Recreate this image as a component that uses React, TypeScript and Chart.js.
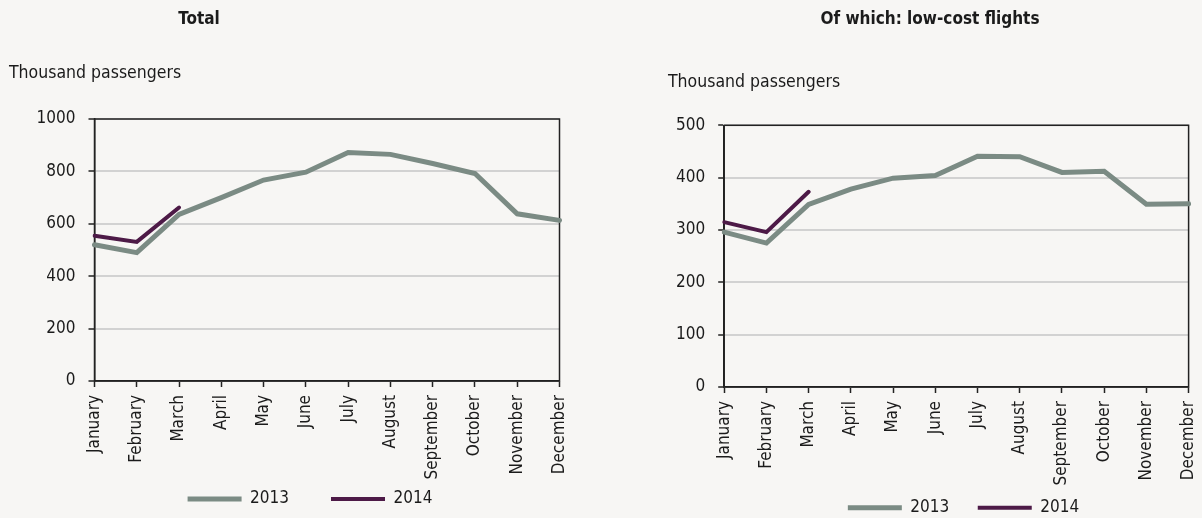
import React, { useEffect, useRef } from "react";
import { Chart, registerables } from "chart.js";

Chart.register(...registerables);

// ---------- data ----------
const months = [
  "January", "February", "March", "April", "May", "June",
  "July", "August", "September", "October", "November", "December",
];
const seriesNames = ["2013", "2014"];
const total2013 = [520, 490, 636, 700, 767, 797, 872, 865, 830, 792, 638, 613];
const total2014 = [554, 531, 662];
const lowCost2013 = [296, 275, 349, 378, 399, 404, 441, 440, 410, 412, 349, 350];
const lowCost2014 = [315, 296, 373];
const totalTicks = [0, 200, 400, 600, 800, 1000];
const lowCostTicks = [0, 100, 200, 300, 400, 500];

const titles = ["Total", "Of which: low-cost flights"];
const unitLabel = "Thousand passengers";

// ---------- style ----------
const FONT = "'Liberation Sans Narrow', 'Arial Narrow', 'DejaVu Sans Condensed', sans-serif";
const TEXT = "#1b1b1b";
const BG = "#f7f6f4";
const C2013 = "#7b8b84";
const C2014 = "#4d1a47";
const AXIS = "#222222";
const GRID = "#d2d2d2";
const TICK_SIZE = 17;

type Layout = {
  left: number;
  width: number;
  height: number;
  padTop: number;
  padBottom: number;
  yWidth: number;
  rightWidth: number;
  xHeight: number;
  legendPad: number;
  legendCenterY: number;
};

const framePlugin = {
  id: "frame",
  beforeDatasetsDraw(chart: any) {
    const { ctx, chartArea: a } = chart;
    ctx.save();
    ctx.strokeStyle = AXIS;
    ctx.lineWidth = 1.5;
    ctx.strokeRect(a.left, a.top, a.right - a.left, a.bottom - a.top);
    ctx.restore();
  },
};

const legendPlacePlugin = {
  id: "legendPlace",
  afterLayout(chart: any, _args: any, opts: any) {
    const lg = chart.legend;
    if (!lg || opts.centerY == null) return;
    const pad = lg.options.labels.padding;
    const fs = lg.options.labels.font.size;
    const h = lg.height;
    lg.top = opts.centerY - pad - fs / 2;
    lg.bottom = lg.top + h;
  },
};

function makeConfig(d2013: number[], d2014: number[], ticks: number[], L: Layout): any {
  return {
    type: "line",
    data: {
      labels: months,
      datasets: [
        {
          label: seriesNames[0],
          data: d2013,
          borderColor: C2013,
          backgroundColor: C2013,
          borderWidth: 5,
          pointRadius: 0,
          tension: 0,
          borderCapStyle: "round",
          borderJoinStyle: "miter",
        },
        {
          label: seriesNames[1],
          data: d2014,
          borderColor: C2014,
          backgroundColor: C2014,
          borderWidth: 4,
          pointRadius: 0,
          tension: 0,
          borderCapStyle: "round",
          borderJoinStyle: "miter",
        },
      ],
    },
    options: {
      responsive: false,
      maintainAspectRatio: false,
      animation: false,
      events: [],
      layout: { padding: { top: L.padTop, bottom: L.padBottom, left: 0, right: 0 } },
      plugins: {
        title: { display: false },
        tooltip: { enabled: false },
        legendPlace: { centerY: L.legendCenterY },
        legend: {
          display: true,
          position: "bottom",
          align: "center",
          labels: {
            usePointStyle: true,
            pointStyle: "line",
            pointStyleWidth: 54,
            boxHeight: TICK_SIZE,
            padding: L.legendPad,
            color: TEXT,
            font: { family: FONT, size: TICK_SIZE },
          },
        },
      },
      scales: {
        x: {
          type: "category",
          offset: false,
          grid: {
            display: true,
            drawOnChartArea: false,
            drawTicks: true,
            tickLength: 6,
            tickColor: AXIS,
            tickWidth: 1.5,
          },
          border: { display: true, color: AXIS, width: 1.5 },
          ticks: {
            autoSkip: false,
            maxRotation: 90,
            minRotation: 90,
            padding: 8,
            color: TEXT,
            font: { family: FONT, size: TICK_SIZE },
          },
          afterFit(s: any) {
            s.height = L.xHeight;
          },
        },
        y: {
          type: "linear",
          min: ticks[0],
          max: ticks[ticks.length - 1],
          afterBuildTicks(s: any) {
            s.ticks = ticks.map((v) => ({ value: v }));
          },
          grid: {
            color: GRID,
            lineWidth: 2,
            drawTicks: true,
            tickLength: 6,
            tickColor: AXIS,
            tickWidth: 1.5,
          },
          border: { display: true, color: AXIS, width: 1.5 },
          ticks: {
            padding: 13,
            color: TEXT,
            font: { family: FONT, size: TICK_SIZE },
            callback: (v: any) => String(v),
          },
          afterFit(s: any) {
            s.width = L.yWidth;
          },
        },
        yR: {
          type: "linear",
          position: "right",
          display: true,
          grid: { display: false, drawTicks: false },
          border: { display: false },
          ticks: { display: false },
          afterFit(s: any) {
            s.width = L.rightWidth;
          },
        },
      },
    },
    plugins: [framePlugin, legendPlacePlugin],
  };
}

// layout (pixel positions of each canvas on the page)
const layoutTotal: Layout = {
  left: 0,
  width: 620,
  height: 600,
  padTop: 119,
  padBottom: 40,
  yWidth: 94.5,
  rightWidth: 60.5,
  xHeight: 110,
  legendPad: 42,
  legendCenterY: 499,
};
const layoutLowCost: Layout = {
  left: 622,
  width: 683.4,
  height: 600,
  padTop: 125.3,
  padBottom: 47.5,
  yWidth: 102.2,
  rightWidth: 116.4,
  xHeight: 110,
  legendPad: 28.5,
  legendCenterY: 507.7,
};

function LineChart({ d2013, d2014, ticks, L }: { d2013: number[]; d2014: number[]; ticks: number[]; L: Layout }) {
  const ref = useRef<HTMLCanvasElement | null>(null);
  useEffect(() => {
    if (!ref.current) return;
    const chart = new Chart(ref.current, makeConfig(d2013, d2014, ticks, L));
    return () => chart.destroy();
  }, []);
  return (
    <canvas
      ref={ref}
      width={Math.round(L.width)}
      height={L.height}
      style={{ position: "absolute", left: L.left, top: 0, width: Math.round(L.width), height: L.height }}
    />
  );
}

function Label({ text, cx, cy, left, bold, size }: { text: string; cx?: number; cy: number; left?: number; bold?: boolean; size: number }) {
  const style: React.CSSProperties = {
    position: "absolute",
    top: cy - size / 2,
    height: size,
    lineHeight: `${size}px`,
    fontFamily: FONT,
    fontSize: size,
    fontWeight: bold ? 700 : 400,
    color: TEXT,
    whiteSpace: "nowrap",
  };
  if (cx !== undefined) {
    style.left = cx - 200;
    style.width = 400;
    style.textAlign = "center";
  } else {
    style.left = left;
  }
  return <div style={style}>{text}</div>;
}

export default function App() {
  return (
    <div
      style={{
        position: "absolute",
        left: 0,
        top: 0,
        width: 1202,
        height: 518,
        overflow: "hidden",
        background: BG,
      }}
    >
      <LineChart d2013={total2013} d2014={total2014} ticks={totalTicks} L={layoutTotal} />
      <LineChart d2013={lowCost2013} d2014={lowCost2014} ticks={lowCostTicks} L={layoutLowCost} />
      <Label text={titles[0]} cx={199} cy={18} bold size={17} />
      <Label text={titles[1]} cx={930} cy={18} bold size={17} />
      <Label text={unitLabel} left={9} cy={73} size={17.5} />
      <Label text={unitLabel} left={668} cy={82} size={17.5} />
    </div>
  );
}
